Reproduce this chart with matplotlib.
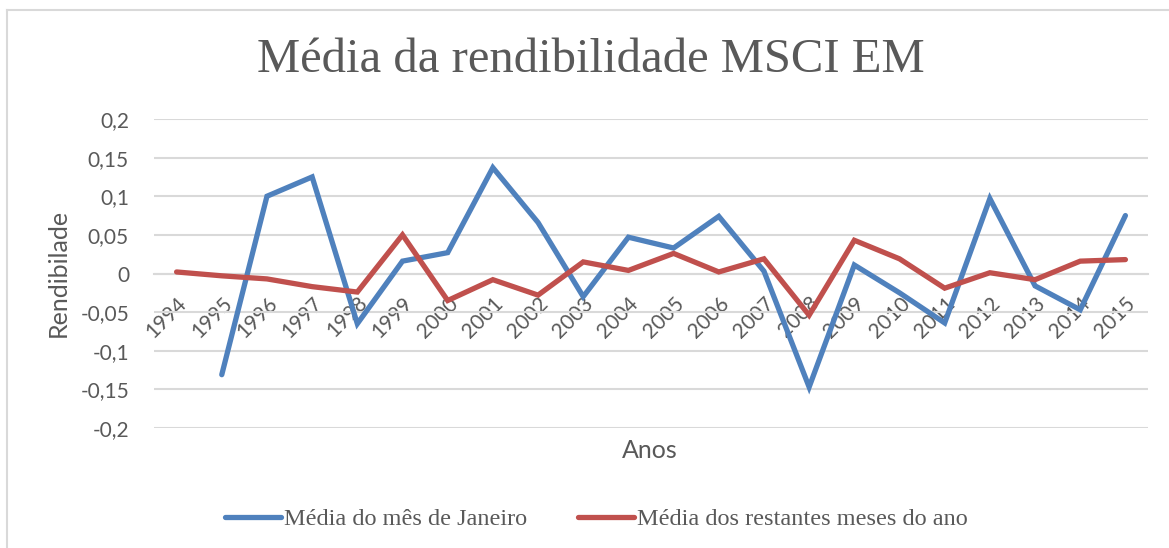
import numpy as np
import matplotlib
matplotlib.use('Agg')
import matplotlib.pyplot as plt
from matplotlib.lines import Line2D

# ─── Data ────────────────────────────────────────────────────────────
anos = [str(a) for a in range(1994, 2016)]
media_janeiro = [np.nan, -0.131, 0.100, 0.125, -0.065, 0.016, 0.027, 0.137,
                 0.066, -0.030, 0.047, 0.033, 0.074, 0.003, -0.147, 0.011,
                 -0.025, -0.064, 0.097, -0.016, -0.047, 0.075]
media_restantes = [0.002, -0.003, -0.007, -0.017, -0.024, 0.050, -0.035, -0.008,
                   -0.028, 0.015, 0.004, 0.026, 0.002, 0.019, -0.054, 0.043,
                   0.019, -0.019, 0.001, -0.008, 0.016, 0.018]
y_ticks = [-0.2, -0.15, -0.1, -0.05, 0, 0.05, 0.1, 0.15, 0.2]
y_labels = ['-0,2', '-0,15', '-0,1', '-0,05', '0', '0,05', '0,1', '0,15', '0,2']

BLUE = '#4F81BD'
RED = '#C0504D'
GRID = '#D9D9D9'
TXT = '#595959'
SANS = 'Lato'
SERIF = 'Liberation Serif'

W, H = 1169, 548
fig = plt.figure(figsize=(W / 100, H / 100), dpi=100)
ax = fig.add_axes([154 / W, 1 - 428 / H, (1148 - 154) / W, (428 - 119) / H])

x = np.arange(len(anos))
ax.plot(x, media_janeiro, color=BLUE, lw=3.8, solid_capstyle='round',
        solid_joinstyle='miter', label='Média do mês de Janeiro', zorder=3)
ax.plot(x, media_restantes, color=RED, lw=3.8, solid_capstyle='round',
        solid_joinstyle='miter', label='Média dos restantes meses do ano', zorder=3)

ax.set_xlim(-0.5, len(anos) - 0.5)
ax.set_ylim(-0.2, 0.2)
ax.set_yticks(y_ticks)
ax.set_yticklabels(y_labels, fontfamily=SANS, fontsize=15, color=TXT)
ax.yaxis.grid(True, color=GRID, lw=1.5)
ax.set_axisbelow(True)
for s in ['top', 'right', 'left']:
    ax.spines[s].set_visible(False)
ax.spines['bottom'].set_position(('data', 0))
ax.spines['bottom'].set_color(GRID)
ax.spines['bottom'].set_linewidth(1.5)
ax.tick_params(axis='both', length=0)
ax.tick_params(axis='y', pad=18)

ax.set_xticks(x)
ax.set_xticklabels(anos, rotation=45, ha='right', va='top', rotation_mode='anchor',
                   fontfamily=SANS, fontsize=15, color=TXT)
ax.tick_params(axis='x', pad=14)

fig.text(650 / W, 1 - 450 / H, 'Anos', ha='center', va='center',
         fontfamily=SANS, fontsize=18, color=TXT)
fig.text(58 / W, 1 - 273 / H, 'Rendibilade', ha='center', va='center', rotation=90,
         fontfamily=SANS, fontsize=18, color=TXT)
fig.text(591 / W, 1 - 60 / H, 'Média da rendibilidade MSCI EM', ha='center', va='center',
         fontfamily=SERIF, fontsize=35, color=TXT)

leg = fig.legend(loc='center', bbox_to_anchor=(596 / W, 1 - 519 / H), ncol=2,
                 frameon=False, handlelength=2.3, handletextpad=0.12, columnspacing=2.1,
                 prop={'family': SERIF, 'size': 17.5})
for t in leg.get_texts():
    t.set_color(TXT)

# chart frame (top and left edges visible)
fig.add_artist(Line2D([7 / W, 1], [1 - 10 / H, 1 - 10 / H], color=GRID, lw=1.5))
fig.add_artist(Line2D([7 / W, 7 / W], [0, 1 - 10 / H], color=GRID, lw=1.5))

fig.savefig('out.png', dpi=100)
